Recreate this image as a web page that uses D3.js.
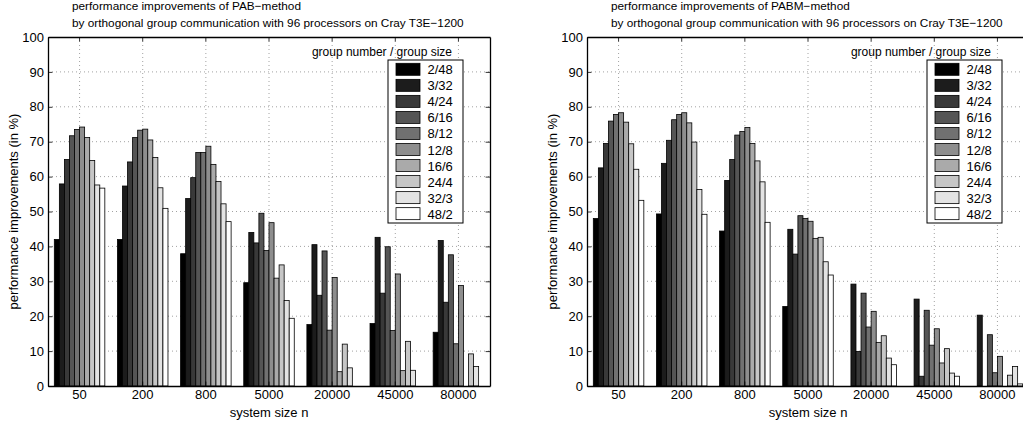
<!DOCTYPE html>
<html>
<head>
<meta charset="utf-8">
<script src="https://cdn.jsdelivr.net/npm/d3@7"></script>
<style>
  html, body { margin: 0; padding: 0; background: #fff; }
  svg { display: block; font-family: "Liberation Sans", Arial, sans-serif; }
</style>
</head>
<body>
<svg id="chart" width="1023" height="423"></svg>
<script>
// System sizes n on the x axis
const systemSizes = ["50", "200", "800", "5000", "20000", "45000", "80000"];
// Group configurations (group number / group size)
const groupConfigs = ["2/48", "3/32", "4/24", "6/16", "8/12", "12/8", "16/6", "24/4", "32/3", "48/2"];
// Grey level for each configuration, black to white
const groupGreys = ["#000000", "#1c1c1c", "#393939", "#555555", "#717171", "#8e8e8e", "#aaaaaa", "#c6c6c6", "#e3e3e3", "#ffffff"];
const yTicks = [0, 10, 20, 30, 40, 50, 60, 70, 80, 90, 100];

// Improvements in % per system size, one entry per group configuration
const pabImprovement = [
  [42.0, 57.9, 64.9, 71.7, 73.5, 74.2, 71.2, 64.6, 57.6, 56.7],
  [42.0, 57.3, 64.2, 71.2, 73.3, 73.6, 70.5, 65.5, 56.8, 50.9],
  [37.9, 53.7, 59.7, 66.9, 66.9, 68.7, 63.5, 58.6, 52.2, 47.1],
  [29.6, 44.0, 41.0, 49.5, 38.8, 46.8, 30.9, 34.7, 24.5, 19.4],
  [17.6, 40.5, 26.0, 38.7, 16.0, 31.1, 4.1, 12.0, 5.2, 0],
  [17.9, 42.6, 26.6, 39.9, 15.9, 32.1, 4.4, 12.8, 4.5, 0],
  [15.4, 41.7, 24.0, 37.6, 12.1, 28.8, 0, 9.2, 5.6, 0]
];
const pabmImprovement = [
  [48.0, 62.5, 69.5, 75.9, 77.8, 78.3, 75.6, 69.4, 62.1, 53.2],
  [49.3, 63.8, 70.4, 76.3, 77.8, 78.3, 75.4, 69.9, 56.3, 49.2],
  [44.4, 58.9, 64.9, 71.9, 72.9, 74.1, 69.5, 64.5, 58.5, 46.9],
  [22.8, 44.9, 37.8, 48.8, 48.0, 47.2, 42.3, 42.6, 35.6, 31.8],
  [0, 29.2, 9.9, 26.6, 16.9, 21.4, 12.5, 14.4, 8.0, 6.1],
  [0, 24.9, 2.8, 21.7, 11.7, 16.4, 6.6, 10.7, 3.7, 2.8],
  [0, 20.3, 0, 14.7, 3.8, 8.5, 0, 3.1, 5.6, 0.6]
];

const titleLine2 = "by orthogonal group communication with 96 processors on Cray T3E\u22121200";

const svg = d3.select("#chart");
const FONT = "Liberation Sans, Arial, sans-serif";

function drawPanel(offsetX, titleLine1, values) {
  const left = 48 + offsetX, right = left + 442, top = 37, bottom = 386;
  const g = svg.append("g");

  const x = d3.scaleBand().domain(systemSizes).range([left, right]).paddingInner(0).paddingOuter(0);
  const y = d3.scaleLinear().domain([0, 100]).range([bottom, top]);
  const groupWidth = x.bandwidth() * 0.8;
  const xi = d3.scaleBand().domain(groupConfigs).range([-groupWidth / 2, groupWidth / 2]).padding(0);
  const colour = d3.scaleOrdinal().domain(groupConfigs).range(groupGreys);

  // dotted grid
  const grid = g.append("g").attr("stroke", "#8a8a8a").attr("stroke-width", 0.8).attr("stroke-dasharray", "1,3");
  grid.selectAll(".gy").data(yTicks.slice(1, -1)).join("line")
    .attr("x1", left).attr("x2", right).attr("y1", d => y(d)).attr("y2", d => y(d));
  grid.selectAll(".gx").data(systemSizes).join("line")
    .attr("y1", top).attr("y2", bottom)
    .attr("x1", d => x(d) + x.bandwidth() / 2).attr("x2", d => x(d) + x.bandwidth() / 2);

  // grouped bars
  const groups = g.append("g").selectAll("g").data(systemSizes).join("g")
    .attr("transform", d => `translate(${x(d) + x.bandwidth() / 2},0)`);
  groups.selectAll("rect")
    .data((d, i) => groupConfigs.map((c, j) => ({ c, v: values[i][j] })).filter(e => e.v > 0))
    .join("rect")
    .attr("x", d => xi(d.c))
    .attr("width", xi.bandwidth())
    .attr("y", d => y(d.v))
    .attr("height", d => y(0) - y(d.v))
    .attr("fill", d => colour(d.c))
    .attr("stroke", "#000").attr("stroke-width", 0.8);

  // axes with inward ticks on all four sides
  const styleAxis = a => {
    a.selectAll("text").attr("font-family", FONT).attr("font-size", 13).attr("fill", "#000");
    a.selectAll("line").attr("stroke", "#000").attr("stroke-width", 0.8);
    a.select(".domain").attr("stroke", "#000").attr("stroke-width", 1.3);
  };
  g.append("g").attr("transform", `translate(${left},0)`)
    .call(d3.axisLeft(y).tickValues(yTicks).tickSizeInner(-4.4).tickSizeOuter(0).tickPadding(4))
    .call(styleAxis);
  g.append("g").attr("transform", `translate(${right},0)`)
    .call(d3.axisRight(y).tickValues(yTicks).tickSizeInner(-4.4).tickSizeOuter(0).tickFormat(""))
    .call(styleAxis);
  g.append("g").attr("transform", `translate(0,${bottom})`)
    .call(d3.axisBottom(x).tickSizeInner(-4.4).tickSizeOuter(0).tickPadding(4))
    .call(styleAxis);
  g.append("g").attr("transform", `translate(0,${top})`)
    .call(d3.axisTop(x).tickSizeInner(-4.4).tickSizeOuter(0).tickFormat(""))
    .call(styleAxis);

  // axis labels
  g.append("text").attr("x", (left + right) / 2).attr("y", 417)
    .attr("text-anchor", "middle").attr("font-size", 13).attr("font-family", FONT)
    .text("system size n");
  g.append("text").attr("transform", `translate(${offsetX + 18},${(top + bottom) / 2}) rotate(-90)`)
    .attr("text-anchor", "middle").attr("font-size", 13).attr("font-family", FONT)
    .text("performance improvements (in %)");

  // title
  g.append("text").attr("x", 72 + offsetX).attr("y", 10)
    .attr("font-size", 11.8).attr("font-family", FONT).text(titleLine1);
  g.append("text").attr("x", 72 + offsetX).attr("y", 27)
    .attr("font-size", 11.8).attr("font-family", FONT).text(titleLine2);

  // legend
  g.append("text").attr("x", 452 + offsetX).attr("y", 56).attr("text-anchor", "end")
    .attr("font-size", 12).attr("font-family", FONT).text("group number / group size");
  const lg = g.append("g").attr("transform", `translate(${388 + offsetX},60)`);
  lg.append("rect").attr("width", 75).attr("height", 163)
    .attr("fill", "#fff").attr("stroke", "#000").attr("stroke-width", 1);
  const rows = lg.selectAll("g").data(groupConfigs).join("g")
    .attr("transform", (d, i) => `translate(0,${3.3 + i * 16.04})`);
  rows.append("rect").attr("x", 8).attr("width", 24).attr("height", 12)
    .attr("fill", d => colour(d)).attr("stroke", "#000").attr("stroke-width", 0.8);
  rows.append("text").attr("x", 39.5).attr("y", 11)
    .attr("font-size", 13).attr("font-family", FONT).text(d => d);
}

drawPanel(0, "performance improvements of PAB\u2212method", pabImprovement);
drawPanel(539, "performance improvements of PABM\u2212method", pabmImprovement);
</script>
</body>
</html>
